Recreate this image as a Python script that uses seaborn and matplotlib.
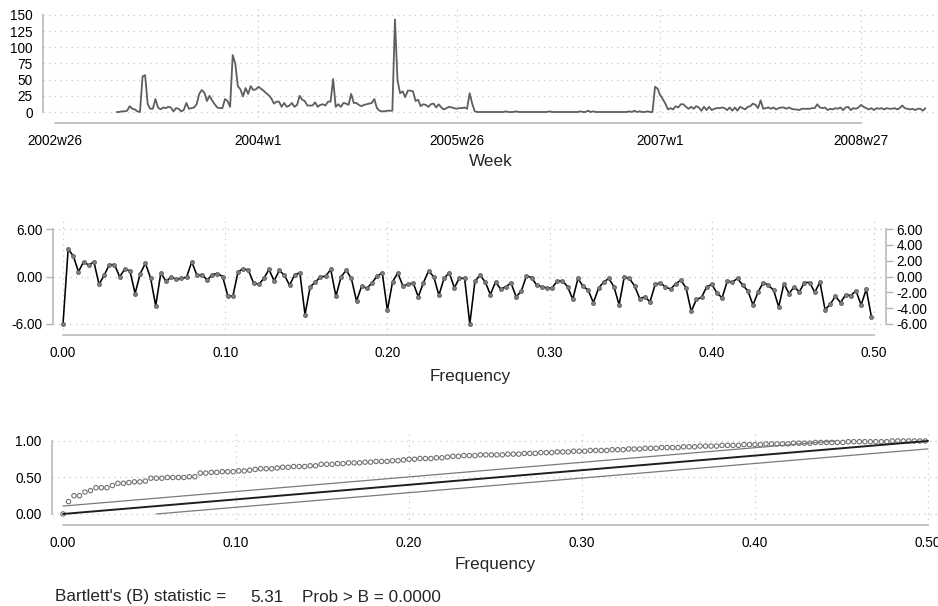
import numpy as np
import pandas as pd
import matplotlib
matplotlib.use("Agg")
import matplotlib.pyplot as plt
import seaborn as sns

# ---------------- data ----------------
# Stata weekly index (%tw): 2002w50 .. 2008w52
week_start = 2233
cases = [
    0, 0, 1, 1, 2, 9, 5, 4, 1, 0,
    55, 57, 12, 5, 5, 20, 7, 4, 7, 6,
    8, 7, 1, 6, 5, 1, 3, 14, 5, 6,
    7, 12, 28, 34, 30, 17, 25, 18, 12, 7,
    6, 6, 20, 17, 8, 88, 75, 40, 35, 24,
    37, 28, 40, 34, 35, 39, 36, 33, 29, 26,
    21, 13, 16, 16, 8, 14, 8, 10, 14, 8,
    11, 25, 19, 17, 10, 10, 10, 15, 8, 11,
    12, 10, 16, 16, 51, 8, 12, 8, 14, 13,
    11, 28, 14, 14, 11, 9, 11, 12, 13, 14,
    20, 6, 2, 1, 1, 2, 2, 2, 143, 49,
    29, 32, 23, 33, 33, 32, 17, 19, 9, 12,
    11, 8, 12, 13, 7, 12, 7, 4, 6, 8,
    7, 6, 5, 6, 6, 7, 5, 29, 13, 1,
    0, 0, 0, 0, 0, 0, 0, 0, 0, 0,
    0, 1, 0, 0, 0, 1, 0, 0, 0, 0,
    0, 0, 0, 0, 0, 0, 0, 0, 1, 0,
    0, 0, 0, 0, 0, 0, 0, 0, 0, 0,
    1, 0, 0, 2, 0, 1, 0, 0, 0, 0,
    0, 0, 0, 0, 0, 0, 0, 0, 0, 1,
    0, 2, 0, 1, 0, 0, 1, 0, 0, 39,
    36, 26, 20, 13, 4, 6, 4, 9, 7, 12,
    12, 8, 5, 8, 5, 9, 7, 2, 8, 3,
    8, 3, 5, 6, 6, 7, 6, 3, 7, 2,
    7, 2, 8, 6, 4, 8, 9, 13, 11, 6,
    18, 5, 6, 7, 5, 7, 4, 6, 7, 7,
    5, 7, 5, 4, 4, 3, 5, 5, 5, 5,
    6, 6, 12, 7, 6, 7, 3, 5, 4, 6,
    5, 7, 3, 7, 8, 3, 6, 5, 7, 11,
    8, 6, 4, 6, 3, 6, 5, 6, 4, 6,
    5, 5, 6, 4, 6, 10, 6, 5, 4, 5,
    3, 5, 5, 2, 6,
]
week_ticks = [2209, 2288, 2365, 2444, 2522]
week_labels = ["2002w26", "2004w1", "2005w26", "2007w1", "2008w27"]

# log periodogram ordinates, frequencies k/315, k = 0..157
log_pgram = [
    -6.0, 3.46, 2.6, 0.6, 1.86, 1.43, 1.86, -1.0, 0.17, 1.5,
    1.5, -0.04, 0.93, 0.72, -2.15, 0.38, 1.65, -0.17, -3.7, 0.46,
    -0.6, -0.08, -0.34, -0.25, -0.08, 1.86, 0.17, 0.25, -0.46, 0.25,
    0.38, 0.0, -2.45, -2.45, 0.6, 1.0, 0.8, -0.8, -1.0, -0.25,
    0.89, -0.55, 0.76, 0.17, -1.1, 0.25, 0.46, -4.8, -1.3, -0.7,
    -0.04, 0.04, 0.89, -2.5, -0.04, 0.8, -0.25, -3.1, -1.2, -1.5,
    -0.8, 0.04, 0.46, -4.26, -0.68, 0.46, -1.18, -1.0, -0.8, -2.57,
    -0.76, 0.68, -0.04, -2.36, -0.25, 0.5, -1.43, -0.17, -0.25, -6.0,
    -0.6, 0.17, -0.68, -2.28, -0.68, -1.6, -1.3, -0.8, -2.57, -1.86,
    0.08, -0.13, -1.1, -1.3, -1.43, -1.43, -0.55, -0.55, -1.3, -2.87,
    -0.25, -1.22, -1.73, -3.3, -1.5, -0.68, -0.25, -1.3, -3.58, -0.04,
    -0.25, -1.18, -2.78, -2.57, -3.2, -1.0, -0.8, -1.3, -1.6, -0.9,
    -0.46, -1.43, -4.4, -2.9, -2.65, -1.3, -1.0, -2.07, -2.7, -0.6,
    -0.68, -0.25, -1.1, -1.8, -3.6, -1.94, -0.76, -1.1, -1.73, -3.84,
    -0.9, -2.15, -1.3, -1.94, -0.76, -0.76, -2.0, -0.7, -4.2, -3.5,
    -2.5, -3.3, -2.3, -2.4, -1.8, -3.6, -1.6, -5.1,
]
n_obs = 315

# cumulative periodogram
cum_pgram = [
    0.00, 0.17, 0.25, 0.25, 0.30, 0.32, 0.36, 0.36, 0.36, 0.39,
    0.42, 0.42, 0.43, 0.44, 0.44, 0.45, 0.49, 0.49, 0.49, 0.50,
    0.50, 0.50, 0.50, 0.51, 0.51, 0.56, 0.56, 0.57, 0.57, 0.58,
    0.58, 0.58, 0.59, 0.59, 0.60, 0.61, 0.62, 0.62, 0.62, 0.63,
    0.64, 0.64, 0.65, 0.65, 0.65, 0.66, 0.66, 0.68, 0.68, 0.68,
    0.69, 0.69, 0.70, 0.70, 0.70, 0.71, 0.71, 0.72, 0.72, 0.72,
    0.73, 0.73, 0.74, 0.75, 0.75, 0.76, 0.76, 0.76, 0.77, 0.77,
    0.78, 0.79, 0.79, 0.80, 0.80, 0.80, 0.81, 0.81, 0.81, 0.81,
    0.81, 0.82, 0.82, 0.82, 0.83, 0.83, 0.83, 0.84, 0.84, 0.84,
    0.85, 0.85, 0.85, 0.86, 0.86, 0.86, 0.87, 0.87, 0.87, 0.87,
    0.88, 0.88, 0.88, 0.89, 0.89, 0.89, 0.90, 0.90, 0.90, 0.91,
    0.91, 0.91, 0.91, 0.92, 0.92, 0.92, 0.93, 0.93, 0.93, 0.93,
    0.94, 0.94, 0.94, 0.94, 0.95, 0.95, 0.95, 0.95, 0.96, 0.96,
    0.96, 0.96, 0.96, 0.97, 0.97, 0.97, 0.97, 0.98, 0.98, 0.98,
    0.98, 0.98, 0.98, 0.99, 0.99, 0.99, 0.99, 0.99, 0.99, 0.99,
    0.99, 1.00, 1.00, 1.00, 1.00, 1.00, 1.00, 1.00,
]
band_c = 0.108
bartlett_B = 5.31
bartlett_p = 0.0000

# ---------------- style ----------------
sns.set_theme(style="white")
plt.rcParams['font.family'] = ['Liberation Sans', 'DejaVu Sans']
plt.rcParams['axes.unicode_minus'] = False

W, H = 938, 606
fig = plt.figure(figsize=(W / 100, H / 100), dpi=100)

SPINE = '#b4b4b4'
GRID = '#c8c8c8'
GRID_LS = (0, (1, 3.5))
TICK_FS = 9.8
LAB_FS = 12.3


def ax_px(l, t, r, b):
    return fig.add_axes([l / W, 1 - b / H, (r - l) / W, (b - t) / H])


def style_axes(ax, vgrid):
    for s in ['top', 'right']:
        ax.spines[s].set_visible(False)
    for s in ['left', 'bottom']:
        ax.spines[s].set_color(SPINE)
        ax.spines[s].set_linewidth(1.1)
    ax.tick_params(axis='both', which='major', direction='out', length=5,
                   width=1.0, color=SPINE, labelsize=TICK_FS, labelcolor='black')
    ax.tick_params(axis='y', pad=2.5)
    ax.tick_params(axis='x', pad=3)
    ax.grid(False)
    ax.grid(True, axis='y', linestyle=GRID_LS, color=GRID, linewidth=0.9)
    for xv in vgrid:
        ax.axvline(xv, linestyle=GRID_LS, color=GRID, linewidth=0.9, zorder=0.5)
    ax.set_xlabel('')
    ax.set_ylabel('')
    ax.set_facecolor('white')


# ---------------- top panel: time series ----------------
df_ts = pd.DataFrame({'week': np.arange(week_start, week_start + len(cases)),
                      'cases': cases})
ax1 = ax_px(43, 8, 936, 123)
sns.lineplot(data=df_ts, x='week', y='cases', ax=ax1, color='#5e5e5e',
             linewidth=1.3)
ax1.set_xlim(2204.34, 2551.1)
ax1.set_ylim(-17, 160.8)
ax1.set_yticks([0, 25, 50, 75, 100, 125, 150])
ax1.set_xticks(week_ticks)
ax1.set_xticklabels(week_labels)
style_axes(ax1, week_ticks[1:])
ax1.spines['left'].set_bounds(0, 150)
ax1.spines['bottom'].set_bounds(week_ticks[0], week_ticks[-1])
fig.text(491 / W, 1 - 162 / H, 'Week', ha='center', va='center', fontsize=LAB_FS)

# ---------------- middle panel: log periodogram ----------------
freq_ticks = [0, 0.1, 0.2, 0.3, 0.4, 0.5]
freq_labels = ['0.00', '0.10', '0.20', '0.30', '0.40', '0.50']
freq = np.arange(len(log_pgram)) / n_obs
df_pg = pd.DataFrame({'freq': freq, 'lp': log_pgram})
ax2 = ax_px(53, 220, 886, 335)
sns.lineplot(data=df_pg, x='freq', y='lp', ax=ax2, color='black', linewidth=1.15,
             marker='o', markersize=2.9, markerfacecolor='#7d7d7d',
             markeredgecolor='#555555', markeredgewidth=0.5)
ax2.set_xlim(-0.00617, 0.5074)
ax2.set_ylim(-7.39, 7.14)
ax2.set_yticks([-6, 0, 6])
ax2.set_yticklabels(['-6.00', '0.00', '6.00'])
ax2.set_xticks(freq_ticks)
ax2.set_xticklabels(freq_labels)
style_axes(ax2, freq_ticks)
ax2.spines['left'].set_bounds(-6, 6)
ax2.spines['bottom'].set_bounds(0, 0.5)

ax2r = ax2.twinx()
ax2r.set_ylim(ax2.get_ylim())
rt = [-6, -4, -2, 0, 2, 4, 6]
ax2r.set_yticks(rt)
ax2r.set_yticklabels(['%.2f' % v for v in rt])
for s in ['top', 'left', 'bottom']:
    ax2r.spines[s].set_visible(False)
ax2r.spines['right'].set_color(SPINE)
ax2r.spines['right'].set_linewidth(1.1)
ax2r.spines['right'].set_bounds(-6, 6)
ax2r.tick_params(axis='y', direction='out', length=5, width=1.0, color=SPINE,
                 labelsize=TICK_FS, labelcolor='black', pad=2.5)
ax2r.grid(False)
fig.text(470 / W, 1 - 377 / H, 'Frequency', ha='center', va='center', fontsize=LAB_FS)

# ---------------- bottom panel: cumulative periodogram ----------------
freq_c = np.arange(len(cum_pgram)) / n_obs
df_cp = pd.DataFrame({'freq': freq_c, 'cp': cum_pgram})
ax3 = ax_px(52, 432, 938, 525)
sns.scatterplot(data=df_cp, x='freq', y='cp', ax=ax3, marker='o', s=10,
                facecolor='none', edgecolor='#707070', linewidth=0.8, zorder=3)
# white-noise line and Bartlett bands
ax3.plot([0, 0.5], [0, 1], color='#1e1e1e', linewidth=1.4, zorder=4)
ax3.plot([0, (1 - band_c) / 2], [band_c, 1], color='#7a7a7a', linewidth=0.9, zorder=4)
ax3.plot([band_c / 2, 0.5], [0, 1 - band_c], color='#7a7a7a', linewidth=0.9, zorder=4)
ax3.set_xlim(-0.00636, 0.5058)
ax3.set_ylim(-0.151, 1.123)
ax3.set_yticks([0, 0.5, 1.0])
ax3.set_yticklabels(['0.00', '0.50', '1.00'])
ax3.set_xticks(freq_ticks)
ax3.set_xticklabels(freq_labels)
style_axes(ax3, freq_ticks[1:])
ax3.spines['left'].set_bounds(0, 1)
ax3.spines['bottom'].set_bounds(0, 0.5)
fig.text(495 / W, 1 - 565 / H, 'Frequency', ha='center', va='center', fontsize=LAB_FS)

# Bartlett statistic line
fig.text(55 / W, 1 - 597 / H, "Bartlett's (B) statistic =", ha='left', va='center',
         fontsize=LAB_FS)
fig.text(284 / W, 1 - 597 / H, '%.2f' % bartlett_B, ha='right', va='center',
         fontsize=LAB_FS)
fig.text(302 / W, 1 - 597 / H, 'Prob > B = %.4f' % bartlett_p, ha='left', va='center',
         fontsize=LAB_FS)

fig.savefig('out.png', dpi=100, facecolor='white')
